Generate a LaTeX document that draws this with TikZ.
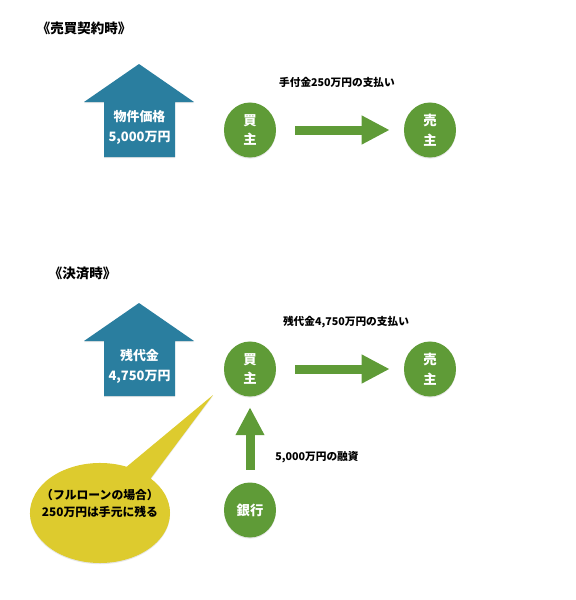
\documentclass[tikz,border=0pt]{standalone}
\usepackage{fontspec}
\newfontfamily\jp{Noto Sans CJK JP}
\usetikzlibrary{arrows.meta, positioning, shapes.geometric, shapes.callouts, shadows}
\definecolor{HouseBlue}{HTML}{2A7E9F}
\definecolor{PartyGreen}{HTML}{5F9B37}
\definecolor{NoteYellow}{HTML}{DDCB2E}

\begin{document}
\begin{tikzpicture}[x=0.025cm, y=-0.025cm, >=Stealth,
  party/.style={ellipse, fill=PartyGreen, text=white, inner sep=0pt,
    minimum width=1.3cm, minimum height=1.375cm, align=center,
    font=\jp\bfseries\fontsize{9.5}{14}\selectfont,
    drop shadow={shadow xshift=0pt, shadow yshift=-0.8pt, opacity=0.2}},
  flow/.style={PartyGreen, line width=0.225cm,
    -{Triangle[width=0.675cm, length=0.7cm]}},
  house/.style={fill=HouseBlue,
    drop shadow={shadow xshift=0pt, shadow yshift=-0.8pt, opacity=0.2}},
  houselabel/.style={text=white, align=center,
    font=\jp\bfseries\fontsize{9.2}{14.2}\selectfont},
  caption/.style={font=\jp\bfseries\fontsize{7.6}{9}\selectfont},
  heading/.style={anchor=west, font=\jp\bfseries\fontsize{9.6}{12}\selectfont}]
  \useasboundingbox (0,0) rectangle (575,600);

  % Contract time
  \node[heading] (title1) at (32,28) {《売買契約時》};
  \path[house] (139,64) -- (194,102) -- (175,102) -- (175,157)
    -- (104,157) -- (104,102) -- (84,102) -- cycle;
  \node[houselabel] (price1) at (139.5,127) {物件価格\\5,000万円};

  \node[party] (buyer1) at (250,130) {買\\主};
  \node[party] (seller1) at (430,130) {売\\主};
  \draw[flow, shorten <=0.475cm, shorten >=0.35cm] (buyer1) -- (seller1);
  \node[caption] (deposit) at (337,82) {手付金250万円の支払い};

  % Settlement time
  \node[heading] (title2) at (44,273) {《決済時》};
  \path[house] (139,303) -- (194,341) -- (175,341) -- (175,396)
    -- (104,396) -- (104,341) -- (84,341) -- cycle;
  \node[houselabel] (price2) at (139.5,366.5) {残代金\\4,750万円};

  \node[party] (buyer2) at (250,369) {買\\主};
  \node[party] (seller2) at (430,369) {売\\主};
  \draw[flow, shorten <=0.475cm, shorten >=0.35cm] (buyer2) -- (seller2);
  \node[caption] (balance) at (346,322) {残代金4,750万円の支払い};

  \node[party] (bank) at (250,510) {銀行};
  \draw[flow, shorten <=0.31cm, shorten >=0.26cm] (bank) -- (buyer2);
  \node[caption] (loan) at (317,457) {5,000万円の融資};

  % Full loan note
  \coordinate (tip) at (213,395);
  \node[ellipse callout, fill=NoteYellow, callout absolute pointer={(tip)},
    callout pointer arc=24, inner sep=0pt, minimum width=3.5cm,
    minimum height=2.5cm,
    drop shadow={shadow xshift=0pt, shadow yshift=-0.8pt, opacity=0.2}]
    (note) at (100,513) {};
  \node[align=center, font=\jp\bfseries\fontsize{8.4}{12.2}\selectfont]
    (notetext) at (100,503.5) {（フルローンの場合）\\250万円は手元に残る};
\end{tikzpicture}
\end{document}
